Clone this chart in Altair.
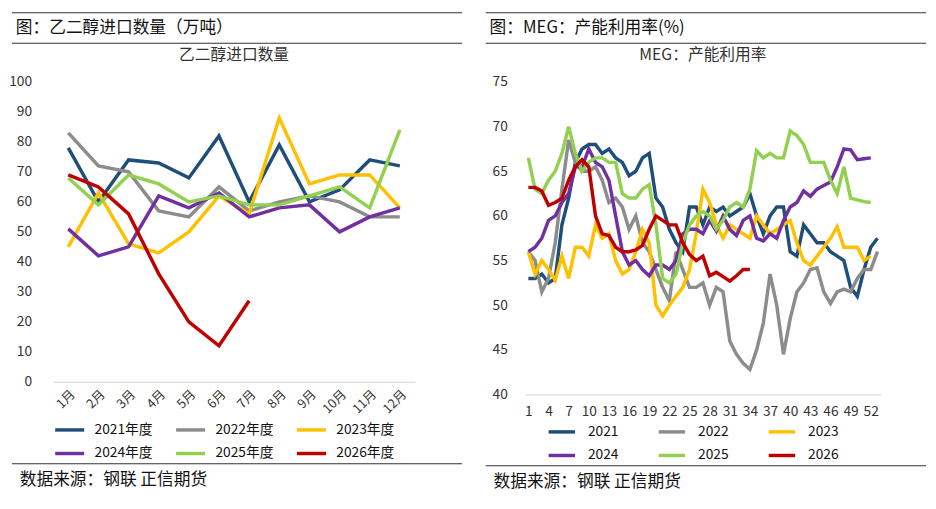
import altair as alt
import pandas as pd

FONT = "Noto Sans CJK SC"
years = ["2021", "2022", "2023", "2024", "2025", "2026"]
colors = ["#1F4E79", "#8C8C8C", "#FFC000", "#7030A0", "#92D050", "#C00000"]

months = ["1月", "2月", "3月", "4月", "5月", "6月", "7月", "8月", "9月", "10月", "11月", "12月"]
imp_2021 = [78, 60, 74, 73, 68, 82, 60, 79, 60, 64, 74, 72]
imp_2022 = [83, 72, 70, 57, 55, 65, 57, 60, 62, 60, 55, 55]
imp_2023 = [45, 63, 46, 43, 50, 62, 56, 88, 66, 69, 69, 58]
imp_2024 = [51, 42, 45, 62, 58, 63, 55, 58, 59, 50, 55, 58]
imp_2025 = [68, 59, 69, 66, 60, 62, 59, 59, 62, 65, 58, 84]
imp_2026 = [69, 65, 56, 36, 20, 12, 27]

u_2021 = [53, 53, 53.5, 52.5, 53, 59, 62, 66, 67.5, 68, 68, 67, 67.5, 66.5, 66, 64.5, 65, 66.5, 67, 62,
          61, 58.5, 57, 56, 61, 61, 59, 61, 60.5, 61, 60, 60.5, 61, 62.5, 60, 58, 60, 61, 61, 56,
          55.5, 59, 58, 57, 57, 56, 55.5, 55, 52, 51, 54, 56.5, 57.5]
u_2022 = [56, 55, 51.5, 53, 57, 63, 68.5, 66, 65, 65, 65.5, 64, 61.5, 62, 61, 58.5, 60, 57, 56, 54,
          52, 50.5, 56, 54, 52, 52, 52.5, 50, 52, 51.5, 46, 44.5, 43.5, 42.8, 45, 48, 53.5, 50, 44.5, 48.5,
          51.5, 52.5, 54, 54.2, 51.5, 50.2, 51.5, 51.8, 51.5, 53, 54, 54, 56]
u_2023 = [56, 53.5, 55, 54, 52.8, 55.5, 53, 56.5, 56.5, 55.5, 59, 57.5, 58, 55, 53.5, 54, 56, 58.5, 57, 50,
          48.8, 50, 51, 52, 54, 58, 63, 61.5, 59, 57.5, 59, 58.5, 58, 57.5, 60, 59, 58, 58.5, 59, 59.5,
          57, 55, 54.5, 55.5, 56.5, 57.5, 58.8, 56.5, 56.5, 56.5, 55, 55.5]
u_2024 = [56, 56.5, 57.5, 59.5, 60, 61.5, 62.5, 65.5, 65.5, 67.5, 66, 65.5, 64, 60, 56, 54.5, 55, 54, 53.3, 54.5,
          54.5, 54, 55, 58, 58.5, 58.5, 58, 59.5, 58.3, 60, 58.5, 57.8, 59.5, 60, 57.5, 57.2, 58, 57.5, 59.5, 61,
          61.5, 62.8, 62.2, 63, 63.4, 63.8, 65.5, 67.5, 67.4, 66.3, 66.4, 66.5]
u_2025 = [66.5, 63, 62.5, 64, 65, 67, 70, 67, 65, 66, 66.5, 66.5, 66, 66, 62.5, 62, 62, 63, 63.5, 59,
          53, 52.5, 53.5, 57, 59, 60, 60.5, 60, 58.5, 59.5, 61, 61.5, 61, 63, 67.3, 66.5, 67, 66.5, 66.5, 69.5,
          69, 68, 66, 66, 66, 64, 62.5, 65.5, 62, 61.8, 61.6, 61.5]
u_2026 = [63.2, 63.2, 62.8, 61.2, 61.5, 62, 64, 65.5, 66.3, 65.5, 60, 58, 57.8, 56.5, 56, 56, 56.2, 56.7, 58.5, 60,
          59.5, 59, 59, 57, 55.7, 55, 55.5, 53.3, 53.7, 53.2, 52.7, 53.3, 54, 54]
week_ticks = list(range(1, 53, 3))

imp_rows = []
for y, vals in zip(years, [imp_2021, imp_2022, imp_2023, imp_2024, imp_2025, imp_2026]):
    for i, v in enumerate(vals):
        imp_rows.append({"series": y + "年度", "order": i, "month": months[i], "v": v})
imp_df = pd.DataFrame(imp_rows)

u_rows = []
for y, vals in zip(years, [u_2021, u_2022, u_2023, u_2024, u_2025, u_2026]):
    for i, v in enumerate(vals):
        u_rows.append({"series": y, "week": i + 1, "v": v})
u_df = pd.DataFrame(u_rows)

LH, RH = 305, 318
left_main = alt.Chart(imp_df).mark_line(strokeWidth=3.5).encode(
    x=alt.X("month:N", sort=months, title=None,
            axis=alt.Axis(labelAngle=-45, labelFontSize=13, labelFont=FONT, ticks=False,
                          domainColor="#d0d0d0", labelColor="#333", labelPadding=6),
            scale=alt.Scale(paddingOuter=0.3)),
    y=alt.Y("v:Q", title=None, scale=alt.Scale(domain=[0, 100]),
            axis=alt.Axis(values=list(range(0, 101, 10)), grid=False, domain=False, ticks=False,
                          labelFontSize=14, labelColor="#333", labelPadding=22)),
    color=alt.Color("series:N", scale=alt.Scale(domain=[y + "年度" for y in years], range=colors),
                    legend=None),
    order="order:Q",
).properties(width=368, height=LH,
             title=alt.TitleParams("乙二醇进口数量", fontSize=16, font=FONT, fontWeight="normal",
                                   color="#333", offset=12))

right_main = alt.Chart(u_df).mark_line(strokeWidth=3.5).encode(
    x=alt.X("week:Q", title=None, scale=alt.Scale(domain=[0.5, 53.5], nice=False),
            axis=alt.Axis(values=week_ticks, grid=False, ticks=False, labelFontSize=14,
                          domainColor="#d0d0d0", labelColor="#333", labelPadding=10)),
    y=alt.Y("v:Q", title=None, scale=alt.Scale(domain=[40, 75]),
            axis=alt.Axis(values=list(range(40, 76, 5)), grid=False, domain=False, ticks=False,
                          labelFontSize=14, labelColor="#333", labelPadding=18)),
    color=alt.Color("series:N", scale=alt.Scale(domain=years, range=colors), legend=None),
    order="week:Q",
).properties(width=362, height=RH,
             title=alt.TitleParams("MEG：产能利用率", fontSize=16, font=FONT, fontWeight="normal",
                                   color="#333", offset=12))

def legend_chart(labels, w, colw, x0):
    d = pd.DataFrame({"lab": labels, "col": [i % 3 for i in range(6)], "row": [i // 3 for i in range(6)],
                      "c": colors})
    base = alt.Chart(d)
    xs = alt.X("col:Q", axis=None, scale=alt.Scale(domain=[0, 2], range=[x0, x0 + 2 * colw]))
    ys = alt.Y("row:Q", axis=None, scale=alt.Scale(domain=[0, 1], range=[12, 36]))
    sym = base.mark_rule(strokeWidth=3.5).encode(
        x=xs, x2=alt.X2("end:Q"), y=ys, color=alt.Color("c:N", scale=None)
    ).transform_calculate(end="datum.col + 0.24")
    txt = base.mark_text(align="left", baseline="middle", fontSize=14, font=FONT, dx=40,
                         color="#111").encode(x=xs, y=ys, text="lab:N")
    return alt.layer(sym, txt).properties(width=w, height=44)

def band_chart(text, w, h, ys, tx, ty, lo):
    xsc = alt.Scale(domain=[0, w], range=[0, w], nice=False, zero=False)
    ysc = alt.Scale(domain=[0, h], range=[0, h], nice=False, zero=False)
    td = pd.DataFrame({"t": [text], "px": [tx - lo], "py": [ty]})
    t = alt.Chart(td).mark_text(align="left", baseline="middle", fontSize=17, font=FONT,
                                color="#111").encode(
        x=alt.X("px:Q", axis=None, scale=xsc), y=alt.Y("py:Q", axis=None, scale=ysc), text="t:N")
    layers = [t]
    for yv in ys:
        rd = pd.DataFrame({"x0": [-lo], "x1": [w - lo], "y0": [yv], "y1": [yv + 1]})
        layers.append(alt.Chart(rd).mark_rect(color="#333").encode(
            x=alt.X("x0:Q", axis=None, scale=xsc), x2="x1:Q",
            y=alt.Y("y0:Q", axis=None, scale=ysc), y2="y1:Q"))
    return alt.layer(*layers).properties(width=w - lo, height=h)

LO_L, LO_R = 42, 40
left = alt.vconcat(
    band_chart("图：乙二醇进口数量（万吨）", 458, 34, [0, 31], 4, 16, LO_L), left_main,
    legend_chart([y + "年度" for y in years], 420, 123, 2),
    band_chart("数据来源：钢联      正信期货", 458, 30, [0], 8, 17, LO_L), spacing=2)
right = alt.vconcat(
    band_chart("图：MEG：产能利用率(%)", 448, 34, [0, 31], 4, 16, LO_R), right_main,
    legend_chart(years, 410, 112, 24),
    band_chart("数据来源：钢联      正信期货", 448, 30, [0], 8, 17, LO_R), spacing=2)

chart = alt.hconcat(left, right, spacing=20).configure(
    font=FONT, padding=0, background="white").configure_view(stroke=None)

chart.save("out.html", embed_options={"renderer": "svg", "actions": False})
